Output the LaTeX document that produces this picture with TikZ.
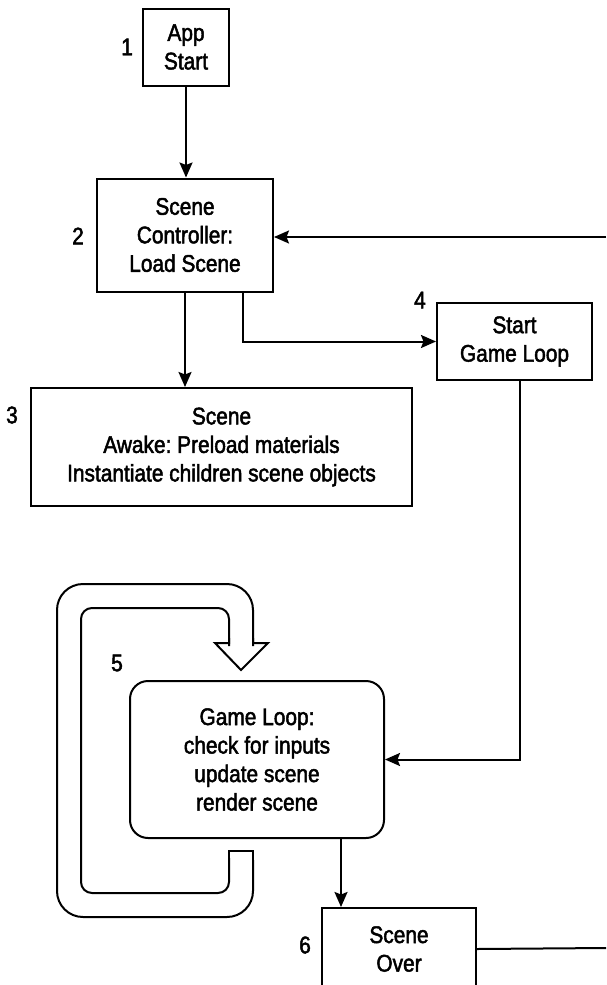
\documentclass[tikz,border=0pt]{standalone}
\usepackage{fontspec}
\setmainfont{Liberation Sans}[FakeStretch=0.87,FakeBold=2]
\usetikzlibrary{arrows.meta}
\frenchspacing
\begin{document}
\begin{tikzpicture}[x=1pt,y=-1pt,
  font=\fontsize{24}{28.5}\selectfont,
  line width=2pt, line join=miter,
  box/.style={draw, align=center, inner sep=0pt},
  arr/.style={-{Stealth[length=15pt,width=13pt,inset=2.5pt]}},
  num/.style={inner sep=0pt}]
\useasboundingbox (0,0) rectangle (606,985);
\clip (0,0) rectangle (606,985);

% boxes
\node[box, minimum width=86pt, minimum height=77pt] (app) at (186,47) {App\\Start};
\node[box, minimum width=176pt, minimum height=113pt] (ctrl) at (185,235) {Scene\\Controller:\\Load Scene};
\node[box, minimum width=381pt, minimum height=118pt] (scene) at (221.5,447) {Scene\\Awake: Preload materials\\Instantiate children scene objects};
\node[box, minimum width=155pt, minimum height=77pt] (start) at (514.5,341.5) {Start\\Game Loop};
\node[box, rounded corners=18pt, minimum width=254pt, minimum height=157pt] (loop) at (257,759.5) {Game Loop:\\check for inputs\\update scene\\render scene};
\node[box, minimum width=154pt, minimum height=82pt] (over) at (399,949) {Scene\\Over};

% numbers
\node[num] (n1) at (127,47) {1};
\node[num] (n2) at (78,236) {2};
\node[num] (n3) at (12,415) {3};
\node[num] (n4) at (420,300) {4};
\node[num] (n5) at (117,663) {5};
\node[num] (n6) at (305,945) {6};

% connectors
\coordinate (rin) at (606,237);
\coordinate (rout) at (606,948);
\draw[arr] (app) -- (app |- ctrl.north);
\draw[arr] (ctrl.south) -- (ctrl.south |- scene.north);
\draw[arr] ([xshift=58pt]ctrl.south) |- (start.west);
\draw[arr] (rin) -- (rin -| ctrl.east);
\draw[arr] ([xshift=5pt]start.south) |- (loop.east);
\draw[arr] ([xshift=84pt]loop.south) -- ([xshift=84pt]loop.south |- over.north);
\draw (over.east) -- (rout);

% hollow loop arrow
\draw[rounded corners=26pt] (253,860) -- (253,917) -- (57,917) -- (57,584) -- (253,584) -- (253,646);
\draw (253,864) -- (253,851) -- (229,851) -- (229,864);
\draw[rounded corners=11pt] (229,858) -- (229,893) -- (81,893) -- (81,608) -- (229,608) -- (229,646);
\draw (229,638) -- (229,643) -- (215,643) -- (241,670) -- (268,643) -- (253,643) -- (253,638);
\end{tikzpicture}
\end{document}
